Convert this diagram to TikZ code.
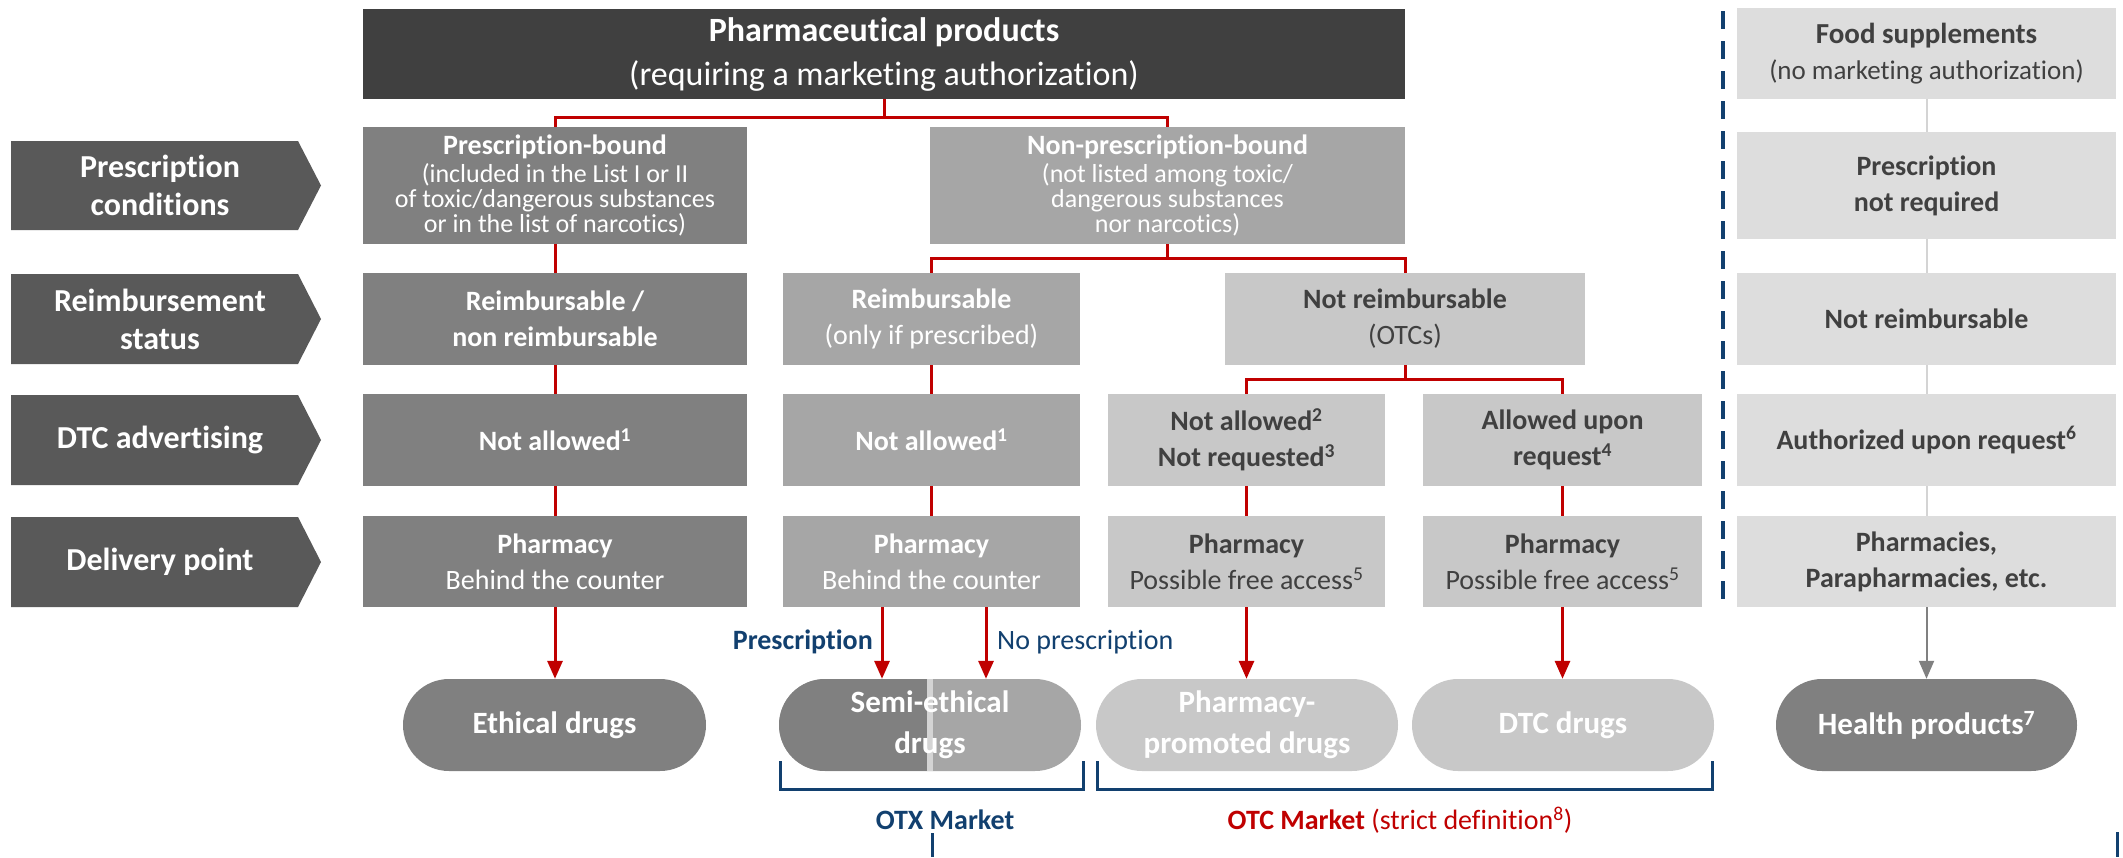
\documentclass[tikz,border=0pt]{standalone}
\usepackage{fontspec}
\setmainfont{Carlito}[Ligatures=NoCommon]
\usetikzlibrary{arrows.meta,shapes.misc}

\definecolor{gTop}{HTML}{404040}
\definecolor{gLab}{HTML}{595959}
\definecolor{gDark}{HTML}{808080}
\definecolor{gMid}{HTML}{A6A6A6}
\definecolor{gLight}{HTML}{C8C8C8}
\definecolor{gPale}{HTML}{DDDDDD}
\definecolor{gLine}{HTML}{D4D4D4}
\definecolor{txtDark}{HTML}{404040}
\definecolor{rLine}{HTML}{C00000}
\definecolor{bLine}{HTML}{12406F}

\newcommand\szTop{\fontsize{34}{44}\selectfont}
\newcommand\szLab{\fontsize{32}{38}\selectfont}
\newcommand\szHead{\fontsize{28}{30}\selectfont}
\newcommand\szSub{\fontsize{26}{25}\selectfont}
\newcommand\szBox{\fontsize{28}{36}\selectfont}
\newcommand\szPill{\fontsize{31}{41}\selectfont}
\newcommand\szNote{\fontsize{28}{34}\selectfont}
\newcommand\szFoodA{\fontsize{29}{31}\selectfont}
\newcommand\szFoodB{\fontsize{27}{31}\selectfont}
\newcommand\labarrow[2]{% row label chevron between y=#1 and y=#2
  \fill[gLab] (11,#1) -- (298,#1) -- (321,{(#1+#2)/2}) -- (298,#2) -- (11,#2) -- cycle;}

\begin{document}
\begin{tikzpicture}[x=1pt,y=-1pt,
  box/.style={rectangle, inner sep=0pt, align=center, text=white, font=\szBox},
  dkbox/.style={box, fill=gDark},
  mdbox/.style={box, fill=gMid},
  ltbox/.style={box, fill=gLight, text=txtDark},
  rtbox/.style={box, fill=gPale, text=txtDark, minimum width=379pt},
  lab/.style={inner sep=0pt, align=center, text=white, font=\szLab\bfseries},
  pill/.style={rounded rectangle, inner sep=0pt, align=center, text=white,
    font=\szPill\bfseries, minimum height=92pt, minimum width=302pt},
  wire/.style={draw=rLine, line width=3pt},
  arr/.style={wire, -{Triangle[length=18pt,width=15pt]}},
  gwire/.style={draw=gLine, line width=2pt},
  garr/.style={draw=gDark, line width=2pt, -{Triangle[length=18pt,width=15pt]}},
  brk/.style={draw=bLine, line width=3pt},
  note/.style={inner sep=0pt, text=bLine, font=\szNote},
]
\useasboundingbox (0,0) rectangle (2123,857);
\fill[white] (0,0) rectangle (2123,857);

% ---------- row labels ----------
\labarrow{141}{230}
\labarrow{274}{364}
\labarrow{395}{485}
\labarrow{517}{607}
\node[lab] (lc1) at (160,185.5) {Prescription\\conditions};
\node[lab] (lc2) at (160,319) {Reimbursement\\status};
\node[lab] (lc3) at (160,440) {DTC advertising};
\node[lab] (lc4) at (160,562) {Delivery point};

% ---------- pharmaceutical products tree ----------
\node[box, fill=gTop, font=\szTop, minimum width=1042pt, minimum height=90pt]
  (top) at (884,54) {{\bfseries Pharmaceutical products}\\(requiring a marketing authorization)};

\node[dkbox, font=\szSub, minimum width=384pt, minimum height=117pt] (pb) at (555,185.5)
  {{\szHead\bfseries Prescription-bound}\\[3pt](included in the List I or II\\of toxic/dangerous substances\\or in the list of narcotics)};
\node[mdbox, font=\szSub, minimum width=475pt, minimum height=117pt] (npb) at (1167.5,185.5)
  {{\szHead\bfseries Non-prescription-bound}\\[3pt](not listed among toxic/\\dangerous substances\\nor narcotics)};

\node[dkbox, font=\szBox\bfseries, minimum width=384pt, minimum height=92pt] (r1) at (555,319)
  {Reimbursable /\\non reimbursable};
\node[mdbox, minimum width=297pt, minimum height=92pt] (r2) at (931.5,319)
  {{\bfseries Reimbursable}\\(only if prescribed)};
\node[ltbox, minimum width=360pt, minimum height=92pt] (r3) at (1405,319)
  {{\bfseries Not reimbursable}\\(OTCs)};

\node[dkbox, font=\szBox\bfseries, minimum width=384pt, minimum height=92pt] (d1) at (555,440)
  {Not allowed\textsuperscript{1}};
\node[mdbox, font=\szBox\bfseries, minimum width=297pt, minimum height=92pt] (d2) at (931.5,440)
  {Not allowed\textsuperscript{1}};
\node[ltbox, font=\szBox\bfseries, minimum width=277pt, minimum height=92pt] (d3) at (1246.5,440)
  {Not allowed\textsuperscript{2}\\Not requested\textsuperscript{3}};
\node[ltbox, font=\szBox\bfseries, minimum width=279pt, minimum height=92pt] (d4) at (1562.5,440)
  {Allowed upon\\request\textsuperscript{4}};

\node[dkbox, minimum width=384pt, minimum height=91pt] (p1) at (555,561.5)
  {{\bfseries Pharmacy}\\Behind the counter};
\node[mdbox, minimum width=297pt, minimum height=91pt] (p2) at (931.5,561.5)
  {{\bfseries Pharmacy}\\Behind the counter};
\node[ltbox, minimum width=277pt, minimum height=91pt] (p3) at (1246.5,561.5)
  {{\bfseries Pharmacy}\\Possible free access\textsuperscript{5}};
\node[ltbox, minimum width=279pt, minimum height=91pt] (p4) at (1562.5,561.5)
  {{\bfseries Pharmacy}\\Possible free access\textsuperscript{5}};

% ---------- market categories ----------
\node[pill, fill=gDark, minimum width=303pt] (eth) at (554.5,725) {Ethical drugs};
\node[pill, fill=gMid, path picture={
    \fill[gDark] (path picture bounding box.north west) rectangle ([xshift=148pt]path picture bounding box.south west);
    \fill[gLine] ([xshift=148pt]path picture bounding box.north west) rectangle ([xshift=154pt]path picture bounding box.south west);
  }] (semi) at (930,725) {Semi-ethical\\drugs};
\node[pill, fill=gLight] (ppd) at (1247,725) {Pharmacy-\\promoted drugs};
\node[pill, fill=gLight] (dtc) at (1563,725) {DTC drugs};
\node[pill, fill=gDark, minimum width=301pt] (hp) at (1926.5,725) {Health products\textsuperscript{7}};

% ---------- red connectors ----------
\coordinate (j1) at (884,117);
\coordinate (j2) at (1167.5,258);
\coordinate (j3) at (1405,379);
\draw[wire] (top.south) -- (j1) -| (pb.north);
\draw[wire] (j1) -| (npb.north);
\draw[wire] (pb.south) -- (r1.north);
\draw[wire] (r1.south) -- (d1.north);
\draw[wire] (d1.south) -- (p1.north);
\draw[arr] (p1.south) -- (p1.south |- eth.north);
\draw[wire] (npb.south) -- (j2) -| (r2.north);
\draw[wire] (j2) -| (r3.north);
\draw[wire] (r2.south) -- (d2.north);
\draw[wire] (d2.south) -- (p2.north);
\draw[wire] (r3.south) -- (j3) -| (d3.north);
\draw[wire] (j3) -| (d4.north);
\draw[wire] (d3.south) -- (p3.north);
\draw[wire] (d4.south) -- (p4.north);
\coordinate (xp) at (882,0);
\coordinate (xn) at (986,0);
\draw[arr] (p2.south -| xp) -- (semi.north -| xp);
\draw[arr] (p2.south -| xn) -- (semi.north -| xn);
\draw[arr] (p3.south) -- (p3.south |- ppd.north);
\draw[arr] (p4.south) -- (p4.south |- dtc.north);

\node[note, anchor=east, font=\szNote\bfseries] (lbP) at (873,642) {Prescription};
\node[note, anchor=west] (lbN) at (997,642) {No prescription};

% ---------- food supplements column ----------
\draw[dash pattern=on 18pt off 12pt, draw=bLine, line width=4pt] (1723,11) coordinate (dtop) -- (1723,602) coordinate (dbot);

\node[rtbox, minimum height=91pt] (f1) at (1926.5,53.5)
  {{\szFoodA\bfseries Food supplements}\\{\szFoodB (no marketing authorization)}};
\node[rtbox, font=\szBox\bfseries, minimum height=107pt] (f2) at (1926.5,185.5) {Prescription\\not required};
\node[rtbox, font=\szBox\bfseries, minimum height=92pt] (f3) at (1926.5,319) {Not reimbursable};
\node[rtbox, font=\szBox\bfseries, minimum height=92pt] (f4) at (1926.5,440) {Authorized upon request\textsuperscript{6}};
\node[rtbox, font=\szBox\bfseries, minimum height=91pt] (f5) at (1926.5,561.5) {Pharmacies,\\Parapharmacies, etc.};
\draw[gwire] (f1.south) -- (f2.north);
\draw[gwire] (f2.south) -- (f3.north);
\draw[gwire] (f3.south) -- (f4.north);
\draw[gwire] (f4.south) -- (f5.north);
\draw[garr] (f5.south) -- (f5.south |- hp.north);

% ---------- market brackets ----------
\coordinate (ox1) at (780,761);  \coordinate (ox2) at (1083,761);
\coordinate (oc1) at (1097,761); \coordinate (oc2) at (1712,761);
\draw[brk] (ox1) -- ++(0,28) -| (ox2);
\draw[brk] (oc1) -- ++(0,28) -| (oc2);
\node[note, font=\szNote\bfseries] (otx) at (945,820) {OTX Market};
\node[note, text=rLine] (otc) at (1400,820) {{\bfseries OTC Market} (strict definition\textsuperscript{8})};
\coordinate (t1a) at (932,833); \coordinate (t1b) at (932,857);
\coordinate (t2a) at (2117,832); \coordinate (t2b) at (2117,857);
\draw[brk] (t1a) -- (t1b);
\draw[brk] (t2a) -- (t2b);
\end{tikzpicture}
\end{document}
